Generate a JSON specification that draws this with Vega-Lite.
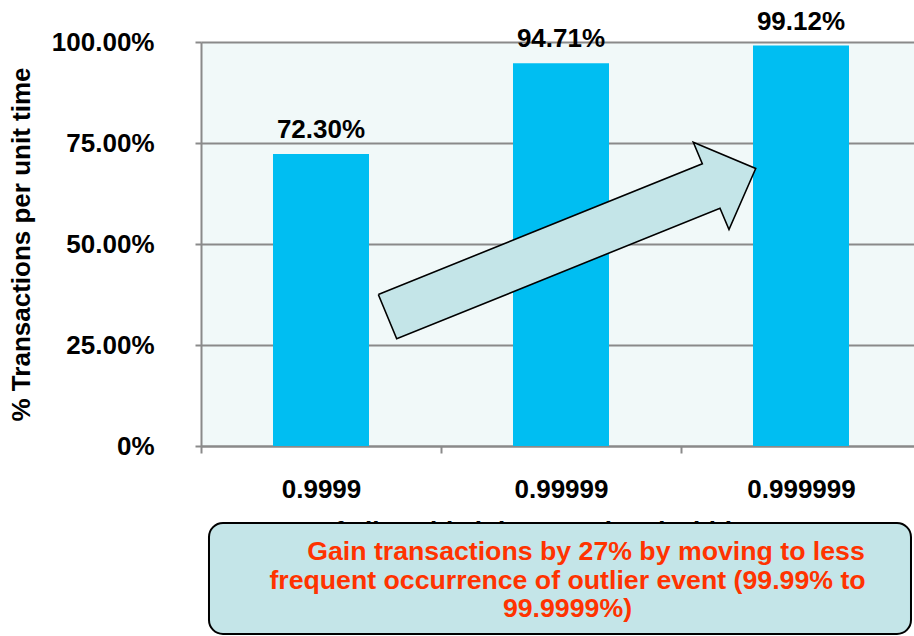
{
  "$schema": "https://vega.github.io/schema/vega-lite/v6.json",
  "width": 720,
  "height": 404,
  "autosize": "none",
  "padding": {"left": 201, "top": 42, "right": 0, "bottom": 190},
  "background": "white",
  "config": {
    "font": "Liberation Sans",
    "view": {"fill": "#f1f9f9", "stroke": null}
  },
  "datasets": {
    "levels": [
      {"level": "0.9999", "pct": 72.30},
      {"level": "0.99999", "pct": 94.71},
      {"level": "0.999999", "pct": 99.12}
    ],
    "arrow": [
      {"i": 1, "ax": 0.7388, "ay": 37.50},
      {"i": 2, "ax": 2.0888, "ay": 69.85},
      {"i": 3, "ax": 2.0513, "ay": 75.20},
      {"i": 4, "ax": 2.3113, "ay": 68.69},
      {"i": 5, "ax": 2.2000, "ay": 53.59},
      {"i": 6, "ax": 2.1625, "ay": 58.86},
      {"i": 7, "ax": 0.8154, "ay": 26.53},
      {"i": 8, "ax": 0.7388, "ay": 37.50}
    ],
    "callout": [
      {"line": "Gain transactions by 27% by moving to less", "lx": 1.604, "ly": -26.24},
      {"line": "frequent occurrence of outlier event (99.99% to", "lx": 1.527, "ly": -33.42},
      {"line": "99.9999%)", "lx": 1.527, "ly": -40.35}
    ]
  },
  "layer": [
    {
      "data": {"name": "levels"},
      "encoding": {
        "x": {
          "field": "level",
          "type": "nominal",
          "sort": null,
          "scale": {"paddingInner": 0, "paddingOuter": 0},
          "axis": {
            "title": "% of allowable jobs completed within 60 sec",
            "titleFontSize": 26,
            "titleFontWeight": "bold",
            "titleColor": "black",
            "titleBaseline": "top",
            "titleY": 72,
            "labelAngle": 0,
            "labelFontSize": 26,
            "labelFontWeight": "bold",
            "labelColor": "black",
            "labelPadding": 23,
            "tickBand": "extent",
            "tickSize": 7,
            "tickColor": "#8a8a8a",
            "tickWidth": 2,
            "domainColor": "#8a8a8a",
            "domainWidth": 2
          }
        },
        "y": {
          "field": "pct",
          "type": "quantitative",
          "scale": {"domain": [0, 100], "nice": false},
          "axis": {
            "values": [0, 25, 50, 75, 100],
            "labelExpr": "datum.value == 0 ? '0%' : format(datum.value, '.2f') + '%'",
            "labelFontSize": 26,
            "labelFontWeight": "bold",
            "labelColor": "black",
            "labelPadding": 41,
            "tickSize": 6,
            "tickColor": "#8a8a8a",
            "tickWidth": 2,
            "domainColor": "#8a8a8a",
            "domainWidth": 2,
            "gridColor": "#8a8a8a",
            "gridWidth": 2,
            "title": "% Transactions per unit time",
            "titleFontSize": 26,
            "titleFontWeight": "bold",
            "titleColor": "black",
            "titleAngle": -90,
            "titleAlign": "center",
            "titleBaseline": "middle",
            "titleX": -180,
            "titleY": 202
          }
        }
      },
      "layer": [
        {"mark": {"type": "bar", "color": "#00bef2", "width": {"band": 0.4}}},
        {
          "transform": [{"calculate": "format(datum.pct, '.2f') + '%'", "as": "lbl"}],
          "mark": {"type": "text", "fontSize": 26, "fontWeight": "bold", "color": "black", "baseline": "alphabetic", "dy": -16},
          "encoding": {"text": {"field": "lbl", "type": "nominal"}}
        }
      ]
    },
    {
      "layer": [
        {
          "data": {"name": "arrow"},
          "mark": {"type": "line", "fill": "#c4e5e8", "stroke": "black", "strokeWidth": 1.6, "strokeJoin": "miter", "interpolate": "linear"},
          "encoding": {
            "x": {"field": "ax", "type": "quantitative", "scale": {"domain": [0, 3], "nice": false, "zero": false}, "axis": null},
            "y": {"field": "ay", "type": "quantitative", "scale": {"domain": [0, 100], "nice": false}, "axis": null},
            "order": {"field": "i", "type": "quantitative"}
          }
        },
        {
          "data": {"values": [{}]},
          "mark": {"type": "rect", "fill": "#c4e5e8", "stroke": "black", "strokeWidth": 2, "cornerRadius": 14},
          "encoding": {
            "x": {"datum": 0.0333, "type": "quantitative", "scale": {"domain": [0, 3], "nice": false, "zero": false}, "axis": null},
            "x2": {"datum": 2.9583},
            "y": {"datum": -19.06, "type": "quantitative", "scale": {"domain": [0, 100], "nice": false}, "axis": null},
            "y2": {"datum": -46.53}
          }
        },
        {
          "data": {"name": "callout"},
          "mark": {"type": "text", "fontSize": 26.7, "fontWeight": "bold", "color": "#ff3300", "align": "center", "baseline": "middle"},
          "encoding": {
            "x": {"field": "lx", "type": "quantitative", "scale": {"domain": [0, 3], "nice": false, "zero": false}, "axis": null},
            "y": {"field": "ly", "type": "quantitative", "scale": {"domain": [0, 100], "nice": false}, "axis": null},
            "text": {"field": "line", "type": "nominal"}
          }
        }
      ]
    }
  ],
  "resolve": {"scale": {"x": "independent", "y": "independent"}}
}
